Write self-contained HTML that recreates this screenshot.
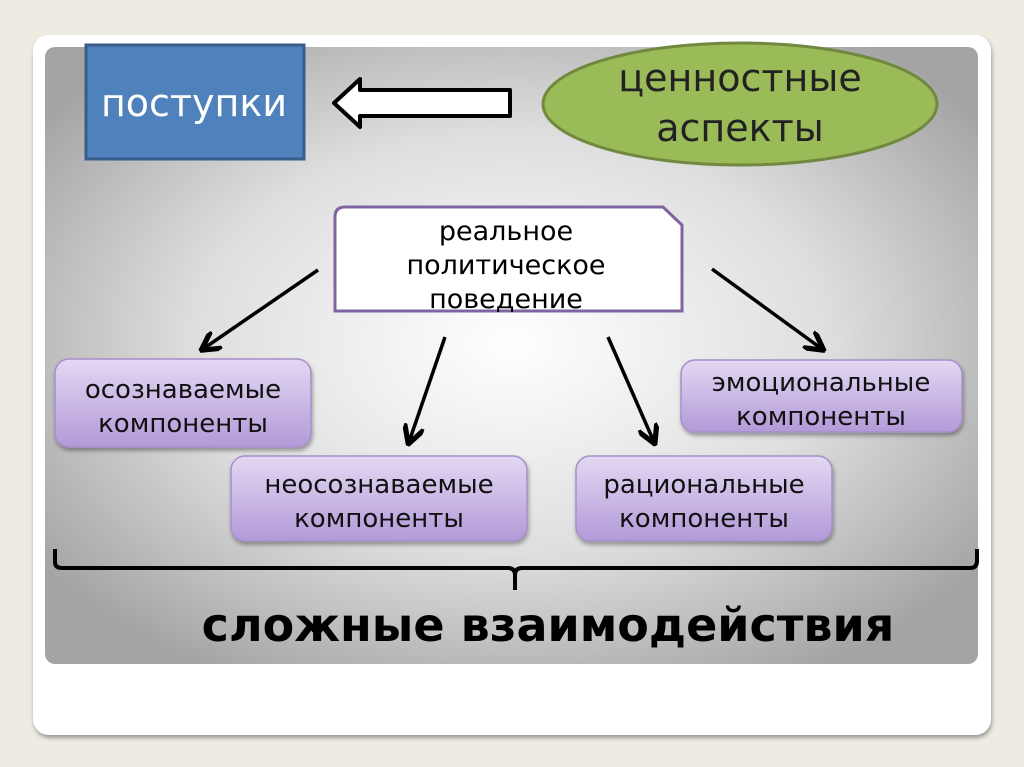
<!DOCTYPE html>
<html><head><meta charset="utf-8"><style>
html,body{margin:0;padding:0;background:#eeece2;}
svg{display:block;font-family:"DejaVu Sans","Liberation Sans",sans-serif;}
</style></head><body>
<svg width="1024" height="767" viewBox="0 0 1024 767" xmlns="http://www.w3.org/2000/svg">
<defs>
<radialGradient id="bg" cx="0.5" cy="0.48" r="0.62">
<stop offset="0" stop-color="#ffffff"/><stop offset="0.55" stop-color="#dedede"/><stop offset="1" stop-color="#a4a4a4"/>
</radialGradient>
<linearGradient id="pg" x1="0" y1="0" x2="0" y2="1">
<stop offset="0" stop-color="#e3d8f3"/><stop offset="1" stop-color="#b29ad8"/>
</linearGradient>
<filter id="sh" x="-10%" y="-10%" width="120%" height="130%"><feDropShadow dx="1" dy="3" stdDeviation="2" flood-opacity="0.35"/></filter>
<marker id="ah" viewBox="0 0 10 10" refX="8" refY="5" markerWidth="6" markerHeight="6" orient="auto"><path d="M0,0 L9,5 L0,10" fill="none" stroke="#000" stroke-width="2.5"/></marker>
</defs>
<rect x="0" y="0" width="1024" height="767" fill="#eeece2"/>
<rect x="33" y="35" width="958" height="700" rx="16" fill="#fff" filter="url(#sh)"/>
<rect x="45" y="47" width="933" height="617" rx="10" fill="url(#bg)"/>
<rect x="86" y="45" width="218" height="114" fill="#4f81bd" stroke="#385d8a" stroke-width="3"/>
<text x="194" y="116" font-size="38" fill="#fff" text-anchor="middle">поступки</text>
<path d="M510,90 L360,90 L360,79 L334,103 L360,127 L360,116 L510,116 Z" fill="#fff" stroke="#000" stroke-width="4" stroke-linejoin="round"/>
<ellipse cx="740" cy="104" rx="197" ry="61" fill="#9bbb59" stroke="#71893f" stroke-width="3"/>
<text x="740" y="91" font-size="38" fill="#222" text-anchor="middle">ценностные</text>
<text x="740" y="141" font-size="38" fill="#222" text-anchor="middle">аспекты</text>
<path d="M345,207 L663,207 L682,225 L682,311 L335,311 L335,217 Q335,207 345,207 Z" fill="#fff" stroke="#8064a2" stroke-width="3"/>
<g font-size="27" fill="#000" text-anchor="middle">
<text x="506" y="240">реальное</text>
<text x="506" y="274">политическое</text>
<text x="506" y="308">поведение</text>
</g>
<g stroke="#000" stroke-width="3.5" marker-end="url(#ah)">
<line x1="318" y1="270" x2="203" y2="349"/>
<line x1="445" y1="337" x2="409" y2="442"/>
<line x1="608" y1="337" x2="654" y2="442"/>
<line x1="712" y1="269" x2="822" y2="349"/>
</g>
<g filter="url(#sh)" fill="url(#pg)" stroke="#a58fc9" stroke-width="1.5">
<rect x="55" y="359" width="256" height="88" rx="14"/>
<rect x="231" y="456" width="296" height="85" rx="14"/>
<rect x="576" y="456" width="256" height="85" rx="14"/>
<rect x="681" y="360" width="281" height="72" rx="14"/>
</g>
<g font-size="26" fill="#111" text-anchor="middle">
<text x="183" y="398">осознаваемые</text>
<text x="183" y="432">компоненты</text>
<text x="379" y="493">неосознаваемые</text>
<text x="379" y="527">компоненты</text>
<text x="704" y="493">рациональные</text>
<text x="704" y="527">компоненты</text>
<text x="821" y="391">эмоциональные</text>
<text x="821" y="425">компоненты</text>
</g>
<path d="M55,549 L55,562 Q55,568 62,568 L508,568 Q515,568 515,575 L515,590 M515,575 Q515,568 522,568 L970,568 Q977,568 977,561 L977,549" fill="none" stroke="#000" stroke-width="4"/>
<text x="548" y="641" font-size="46" font-weight="bold" fill="#000" text-anchor="middle">сложные взаимодействия</text>
</svg>
</body></html>
